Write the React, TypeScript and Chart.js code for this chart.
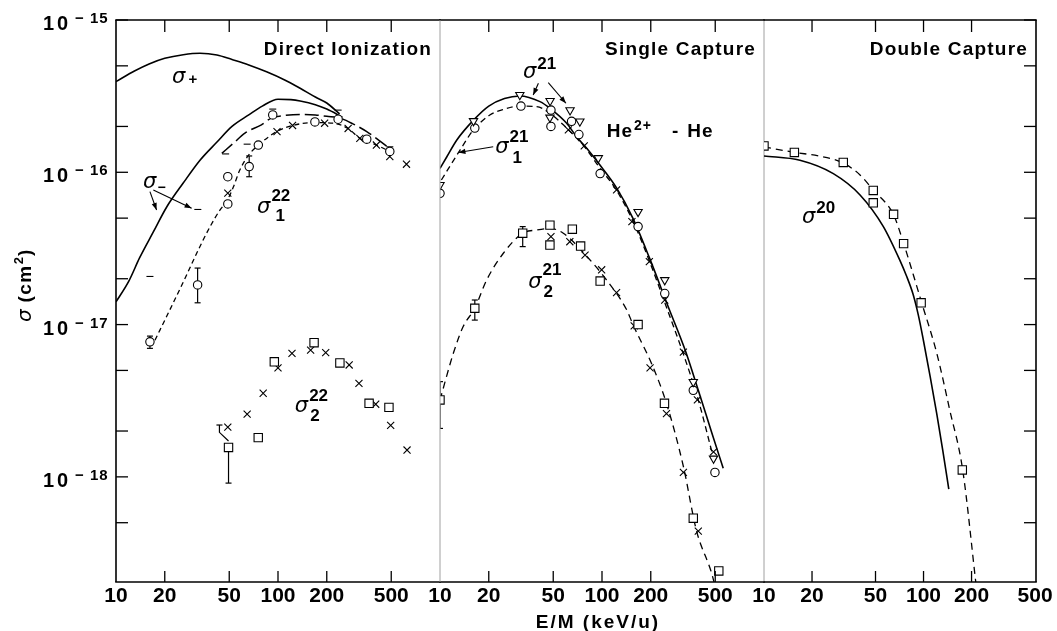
import React, { useEffect, useRef } from "react";
import { Chart, registerables } from "chart.js";
Chart.register(...registerables);

const W = 1057;
const H = 631;
const FONT = "'Liberation Sans', Arial, sans-serif";
const SIGMA_FONT = "italic 21px 'DejaVu Sans'";
const SUP_FONT = "bold 17px 'Liberation Sans'";

// ---------- axes / ticks ----------
const xTickValues = [10, 20, 50, 100, 200, 500];
const xInnerTickValues = [20, 50, 100, 200, 500];
const yDecadeTicks = [1e-15, 1e-16, 1e-17, 1e-18];
const yDecadeExponents = ["15", "16", "17", "18"];
const yMinorTicks = [5e-16, 2e-16, 5e-17, 2e-17, 5e-18, 2e-18, 5e-19];
const yMin = 2.04e-19;
const yMax = 1e-15;

// ---------- Panel 1: Direct Ionization ----------
const diSigmaPlusE = [10, 13, 16, 20, 26, 33, 42, 52, 66, 85, 110, 137, 170, 200, 240];
const diSigmaPlusV = [3.94e-16, 4.62e-16, 5.14e-16, 5.6e-16, 5.92e-16, 6.05e-16, 5.89e-16, 5.5e-16, 5.07e-16, 4.57e-16, 4.04e-16, 3.56e-16, 3.12e-16, 2.85e-16, 2.42e-16];
const diSigmaMinusE = [10, 12, 14, 17, 20.6, 26, 33, 42, 52, 66, 80, 100, 120, 137, 170, 200, 250];
const diSigmaMinusV = [1.41e-17, 1.93e-17, 2.75e-17, 4.06e-17, 5.94e-17, 8.5e-17, 1.2e-16, 1.58e-16, 2.0e-16, 2.38e-16, 2.72e-16, 3.02e-16, 3.0e-16, 2.94e-16, 2.78e-16, 2.6e-16, 2.3e-16];
const diLongDashE = [45, 53, 62.5, 79, 91, 110, 137, 170, 200, 241, 290, 353, 420, 504];
const diLongDashV = [1.33e-16, 1.55e-16, 1.81e-16, 2.05e-16, 2.27e-16, 2.36e-16, 2.4e-16, 2.38e-16, 2.33e-16, 2.27e-16, 2.08e-16, 1.85e-16, 1.62e-16, 1.4e-16];
const diShortDashE = [17.4, 21.5, 26.6, 32.2, 38.1, 43.8, 48.4, 53, 58, 66, 75.6, 87, 98, 123, 169, 218, 271, 320, 405, 490];
const diShortDashV = [7.9e-18, 1.25e-17, 2.0e-17, 3.09e-17, 4.4e-17, 5.65e-17, 6.5e-17, 8.0e-17, 1.03e-16, 1.3e-16, 1.51e-16, 1.7e-16, 1.85e-16, 2.03e-16, 2.12e-16, 2.1e-16, 1.94e-16, 1.67e-16, 1.51e-16, 1.37e-16];
const diCircleE = [16.2, 31.9, 49, 49, 66.4, 75.6, 92.8, 169, 235, 353, 490];
const diCircleV = [7.7e-18, 1.82e-17, 6.2e-17, 9.35e-17, 1.09e-16, 1.51e-16, 2.38e-16, 2.14e-16, 2.23e-16, 1.65e-16, 1.37e-16];
const diCrossE = [49, 98.6, 123, 194, 271, 320, 405, 490, 621];
const diCrossV = [7.3e-17, 1.85e-16, 2.03e-16, 2.1e-16, 1.94e-16, 1.67e-16, 1.51e-16, 1.27e-16, 1.13e-16];
const diDashMarkE = [16.2, 32, 47.5, 64.5, 92.8, 235, 490];
const diDashMarkV = [2.07e-17, 5.7e-17, 1.32e-16, 1.53e-16, 2.6e-16, 2.56e-16, 1.47e-16];
const diS2SquareE = [49.5, 75.5, 94.9, 167, 241, 365, 484];
const diS2SquareV = [1.56e-18, 1.81e-18, 5.7e-18, 7.6e-18, 5.6e-18, 3.04e-18, 2.86e-18];
const diS2CrossE = [49, 64.5, 81, 100, 122, 159, 197, 275, 316, 401, 496, 626];
const diS2CrossV = [2.12e-18, 2.58e-18, 3.54e-18, 5.2e-18, 6.47e-18, 6.8e-18, 6.54e-18, 5.43e-18, 4.11e-18, 3.0e-18, 2.18e-18, 1.5e-18];
const diErrE = [16.2, 31.9, 66.4];
const diErrLo = [6.98e-18, 1.39e-17, 9.35e-17];
const diErrHi = [8.4e-18, 2.35e-17, 1.28e-16];
const diBentErrE = [43.5, 43.5, 49.5];
const diBentErrV = [2.19e-18, 1.96e-18, 1.72e-18];
const diLowErrE = [49.5, 49.5];
const diLowErrV = [1.56e-18, 9.1e-19];

// ---------- Panel 2: Single Capture ----------
const scSigmaE = [10, 11, 12.7, 16.1, 20, 25, 31.1, 41.4, 47.8, 60.5, 69.7, 80, 95, 123, 155, 196, 257, 326, 393, 476, 560];
const scSigmaV = [1.06e-16, 1.26e-16, 1.63e-16, 2.2e-16, 2.72e-16, 3.05e-16, 3.17e-16, 2.91e-16, 2.63e-16, 2.1e-16, 1.71e-16, 1.45e-16, 1.15e-16, 7.9e-17, 5.0e-17, 2.75e-17, 1.3e-17, 6.8e-18, 3.7e-18, 1.95e-18, 1.14e-18];
const scSigma1E = [10.2, 13.3, 16.1, 20.3, 25, 31.1, 39.5, 47.8, 57.7, 69.7, 80, 95, 123, 155, 196, 250, 318, 393, 476];
const scSigma1V = [8.9e-17, 1.4e-16, 1.9e-16, 2.38e-16, 2.6e-16, 2.72e-16, 2.7e-16, 2.44e-16, 2.05e-16, 1.68e-16, 1.42e-16, 1.1e-16, 7.6e-17, 4.8e-17, 2.62e-17, 1.3e-17, 6.4e-18, 3.2e-18, 1.47e-18];
const scSigma2E = [10, 12.1, 13.9, 16.4, 19.4, 24.6, 32.4, 39.5, 47.7, 57.7, 80.7, 106.8, 142, 156, 206, 250, 318, 382, 488, 520];
const scSigma2V = [3.2e-18, 6.5e-18, 9.7e-18, 1.28e-17, 1.96e-17, 2.94e-17, 3.98e-17, 4.18e-17, 4.28e-17, 3.98e-17, 2.8e-17, 1.96e-17, 1.25e-17, 9.9e-18, 5.3e-18, 3.04e-18, 1.17e-18, 4.48e-19, 2.1e-19, 1.5e-19];
const scTriE = [10, 16.1, 31.1, 47.8, 47.7, 63.5, 73, 94.9, 167, 244, 366, 488];
const scTriV = [8.26e-17, 2.17e-16, 3.22e-16, 2.94e-16, 2.29e-16, 2.56e-16, 2.16e-16, 1.24e-16, 5.5e-17, 1.96e-17, 4.2e-18, 1.32e-18];
const scCircleE = [10, 16.4, 31.6, 48.4, 48.4, 64.9, 72, 97.4, 167, 244, 366, 498];
const scCircleV = [7.28e-17, 1.95e-16, 2.72e-16, 2.56e-16, 2.0e-16, 2.16e-16, 1.77e-16, 9.8e-17, 4.4e-17, 1.6e-17, 3.7e-18, 1.07e-18];
const scCrossE = [62, 77.7, 123, 153, 196, 244, 318, 388, 488];
const scCrossV = [1.9e-16, 1.49e-16, 7.66e-17, 4.74e-17, 2.59e-17, 1.45e-17, 6.6e-18, 3.2e-18, 1.46e-18];
const scS2SquareE = [10, 16.4, 32.4, 47.7, 47.7, 65.6, 73.8, 97.4, 167, 243, 366, 526];
const scS2SquareV = [3.2e-18, 1.28e-17, 3.98e-17, 4.5e-17, 3.33e-17, 4.23e-17, 3.28e-17, 1.93e-17, 1.0e-17, 3.04e-18, 5.35e-19, 2.41e-19];
const scS2CrossE = [48.4, 63.3, 78.6, 99.5, 123, 158, 198, 250, 318, 393];
const scS2CrossV = [3.78e-17, 3.5e-17, 2.86e-17, 2.29e-17, 1.62e-17, 9.8e-18, 5.2e-18, 2.6e-18, 1.07e-18, 4.4e-19];
const scErrE = [10, 16.4, 32.4];
const scErrLo = [2.08e-18, 1.07e-17, 3.25e-17];
const scErrHi = [4.22e-18, 1.45e-17, 4.4e-17];

// ---------- Panel 3: Double Capture ----------
const dcSolidE = [10, 16.8, 27.2, 40, 56, 71, 78, 86, 93, 100, 110, 121, 132, 144];
const dcSolidV = [1.28e-16, 1.2e-16, 9.8e-17, 7.1e-17, 4.4e-17, 2.65e-17, 2.1e-17, 1.58e-17, 1.14e-17, 7.8e-18, 4.57e-18, 2.6e-18, 1.49e-18, 8.3e-19];
const dcDashE = [10, 15.6, 22, 31.4, 40, 48.4, 64.9, 75, 86, 97.6, 121, 146, 176, 213];
const dcDashV = [1.47e-16, 1.35e-16, 1.28e-16, 1.15e-16, 9.6e-17, 7.65e-17, 5.25e-17, 3.42e-17, 2.15e-17, 1.38e-17, 6.5e-18, 2.75e-18, 1.11e-18, 2.0e-19];
const dcSquareE = [10, 15.5, 31.4, 48.4, 48.4, 64.9, 75, 96.6, 175];
const dcSquareV = [1.49e-16, 1.35e-16, 1.16e-16, 7.6e-17, 6.3e-17, 5.3e-17, 3.4e-17, 1.39e-17, 1.11e-18];

// ---------- helpers ----------
const pts = (E: number[], V: number[]) => E.map((e, i) => ({ x: e, y: V[i] }));

const curve = (E: number[], V: number[], dash: number[], width = 1.5) => ({
  data: pts(E, V),
  showLine: true,
  borderColor: "#000",
  borderWidth: width,
  borderDash: dash,
  pointRadius: 0,
  pointHoverRadius: 0,
  cubicInterpolationMode: "monotone",
  fill: false,
  order: 2,
});

const marks = (E: number[], V: number[], style: string, r: number, rot = 0) => ({
  data: pts(E, V),
  showLine: false,
  pointStyle: style,
  pointRadius: r,
  pointHoverRadius: r,
  pointRotation: rot,
  pointBackgroundColor: "#fff",
  pointBorderColor: "#000",
  pointBorderWidth: 1.1,
  order: 0,
});

const errBars = (E: number[], lo: number[], hi: number[]) =>
  E.map((e, i) => ({
    data: [{ x: e, y: lo[i] }, { x: e, y: hi[i] }],
    showLine: true,
    borderColor: "#000",
    borderWidth: 1.2,
    pointStyle: "line",
    pointRadius: 3,
    pointHoverRadius: 3,
    pointBorderWidth: 1.2,
    pointBorderColor: "#000",
    order: 1,
  }));

const polyBar = (E: number[], V: number[], radii: number[]) => ({
  data: pts(E, V),
  showLine: true,
  borderColor: "#000",
  borderWidth: 1.2,
  pointStyle: "line",
  pointRadius: radii,
  pointHoverRadius: radii,
  pointBorderWidth: 1.2,
  pointBorderColor: "#000",
  order: 1,
});

type Part = { t: string; font: string; dx?: number; dy?: number; ls?: number; back?: boolean };
const SIG: Part = { t: "σ", font: SIGMA_FONT };

function rich(ctx: any, x: number, y: number, parts: Part[]) {
  let cx = x;
  for (const p of parts) {
    ctx.font = p.font;
    ctx.letterSpacing = (p.ls ?? 0) + "px";
    cx += p.dx ?? 0;
    const start = cx;
    ctx.fillText(p.t, cx, y + (p.dy ?? 0));
    cx += ctx.measureText(p.t).width;
    if (p.back) cx = start;
  }
  ctx.letterSpacing = "0px";
}

// annotations (anchors in data coordinates)
const diLabels = [
  { E: 22.2, V: 3.86e-16, parts: [SIG, { t: "+", font: "bold 15px 'Liberation Sans'", dx: 3, dy: 1 }] },
  { E: 14.7, V: 7.88e-17, parts: [SIG, { t: "−", font: "bold 14px 'Liberation Sans'", dx: 1, dy: 4 }] },
  { E: 74.3, V: 5.41e-17, parts: [SIG, { t: "22", font: SUP_FONT, dx: 1, dy: -12, back: true }, { t: "1", font: SUP_FONT, dx: 4, dy: 8 }] },
  { E: 127, V: 2.67e-18, parts: [SIG, { t: "22", font: SUP_FONT, dx: 1, dy: -11, back: true }, { t: "2", font: SUP_FONT, dx: 1, dy: 9 }] },
];
const diArrowFromE = [16.2, 17.0];
const diArrowFromV = [7.47e-17, 7.66e-17];
const diArrowToE = [17.8, 29.3];
const diArrowToV = [5.65e-17, 5.81e-17];

const scLabels = [
  { E: 32.5, V: 4.16e-16, parts: [SIG, { t: "21", font: SUP_FONT, dx: 1, dy: -9 }] },
  { E: 21.9, V: 1.34e-16, parts: [SIG, { t: "21", font: SUP_FONT, dx: 1, dy: -11, back: true }, { t: "1", font: SUP_FONT, dx: 3, dy: 10 }] },
  { E: 35, V: 1.74e-17, parts: [SIG, { t: "21", font: SUP_FONT, dx: 1, dy: -13, back: true }, { t: "2", font: SUP_FONT, dx: 1, dy: 9 }] },
  {
    E: 107, V: 1.71e-16,
    parts: [
      { t: "He", font: "bold 19px 'Liberation Sans'", ls: 1 },
      { t: "2+", font: "bold 14px 'Liberation Sans'", dx: 1, dy: -7, ls: 1 },
      { t: "-", font: "bold 19px 'Liberation Sans'", dx: 20 },
      { t: "He", font: "bold 19px 'Liberation Sans'", dx: 9, ls: 1 },
    ],
  },
];
const scArrowFromE = [40.5, 46.6, 21.3];
const scArrowFromV = [3.84e-16, 3.88e-16, 1.47e-16];
const scArrowToE = [37.6, 59.9, 13.0];
const scArrowToV = [3.22e-16, 2.84e-16, 1.35e-16];

const dcLabels = [{ E: 17.3, V: 4.65e-17, parts: [SIG, { t: "20", font: SUP_FONT, dx: 1, dy: -10 }] }];

// ---------- decoration plugin ----------
const decorPlugin = {
  id: "decor",
  afterDatasetsDraw(chart: any, _args: any, o: any) {
    const ctx = chart.ctx;
    const ca = chart.chartArea;
    const xs = chart.scales.x;
    const ys = chart.scales.y;
    const px = (E: number) => xs.getPixelForValue(E);
    const py = (V: number) => ys.getPixelForValue(V);
    ctx.save();
    const seg = (x1: number, y1: number, x2: number, y2: number, color: string, w: number) => {
      ctx.strokeStyle = color;
      ctx.lineWidth = w;
      ctx.beginPath();
      ctx.moveTo(x1, y1);
      ctx.lineTo(x2, y2);
      ctx.stroke();
    };
    // frame
    seg(ca.left - 0.8, ca.top, ca.right + 0.8, ca.top, "#000", 1.6);
    seg(ca.left - 0.8, ca.bottom, ca.right + 0.8, ca.bottom, "#000", 1.6);
    if (o.left === "solid") seg(ca.left, ca.top, ca.left, ca.bottom, "#000", 1.6);
    if (o.left === "gray") seg(ca.left, ca.top, ca.left, ca.bottom, "#a0a0a0", 1);
    if (o.right === "solid") seg(ca.right, ca.top, ca.right, ca.bottom, "#000", 1.6);
    if (o.right === "gray") seg(ca.right, ca.top, ca.right, ca.bottom, "#a0a0a0", 1);
    // x ticks (inward)
    for (const v of xInnerTickValues) {
      if (v > xs.max * 0.9) continue;
      const x = px(v);
      seg(x, ca.top, x, ca.top + 12, "#000", 1.3);
      seg(x, ca.bottom, x, ca.bottom - 11, "#000", 1.3);
    }
    // y ticks (inward)
    const yt = [...yDecadeTicks, ...yMinorTicks];
    for (const v of yt) {
      const y = py(v);
      if (o.yTicksLeft) seg(ca.left, y, ca.left + 12, y, "#000", 1.3);
      if (o.yTicksRight) seg(ca.right, y, ca.right - 12, y, "#000", 1.3);
    }
    ctx.fillStyle = "#000";
    ctx.textAlign = "left";
    ctx.textBaseline = "alphabetic";
    // y tick labels
    if (o.yLabels) {
      yDecadeTicks.forEach((v, i) => {
        const y = py(v);
        rich(ctx, 43, y + 10, [{ t: "10", font: "bold 20px 'Liberation Sans'", ls: 3 }]);
        rich(ctx, 75, y + 3, [{ t: "− " + yDecadeExponents[i], font: "bold 15px 'Liberation Sans'", ls: 1 }]);
      });
    }
    // y title
    if (o.yTitle) {
      ctx.save();
      ctx.translate(31, 322);
      ctx.rotate(-Math.PI / 2);
      rich(ctx, 0, 0, [
        { t: "σ", font: "italic 20px 'DejaVu Sans'" },
        { t: " (cm", font: "bold 19px 'Liberation Sans'", ls: 1.5 },
        { t: "2", font: "bold 13px 'Liberation Sans'", dy: -8 },
        { t: ")", font: "bold 19px 'Liberation Sans'", dx: 1 },
      ]);
      ctx.restore();
    }
    // x title
    if (o.xTitle) {
      ctx.font = "bold 19px 'Liberation Sans'";
      ctx.letterSpacing = "2px";
      ctx.textAlign = "center";
      ctx.fillText("E/M (keV/u)", (ca.left + ca.right) / 2 - 4, 628);
      ctx.letterSpacing = "0px";
      ctx.textAlign = "left";
    }
    // panel title
    ctx.font = "bold 19px 'Liberation Sans'";
    ctx.letterSpacing = "1.2px";
    ctx.textAlign = "right";
    ctx.fillText(o.title, ca.right - 8, ca.top + 35);
    ctx.letterSpacing = "0px";
    ctx.textAlign = "left";
    // labels
    for (const l of o.labels) rich(ctx, px(l.E), py(l.V), l.parts);
    // arrows
    for (let i = 0; i < o.arrowFromE.length; i++) {
      const x1 = px(o.arrowFromE[i]);
      const y1 = py(o.arrowFromV[i]);
      const x2 = px(o.arrowToE[i]);
      const y2 = py(o.arrowToV[i]);
      seg(x1, y1, x2, y2, "#000", 1.1);
      const a = Math.atan2(y2 - y1, x2 - x1);
      const L = 7;
      const Wd = 2.6;
      ctx.beginPath();
      ctx.moveTo(x2, y2);
      ctx.lineTo(x2 - L * Math.cos(a) + Wd * Math.sin(a), y2 - L * Math.sin(a) - Wd * Math.cos(a));
      ctx.lineTo(x2 - L * Math.cos(a) - Wd * Math.sin(a), y2 - L * Math.sin(a) + Wd * Math.cos(a));
      ctx.closePath();
      ctx.fill();
    }
    ctx.restore();
  },
};

const SQ = 5.9;
const CR = 5;
const CI = 4.2;
const TR = 4.8;

const panels = [
  {
    padLeft: 0,
    padRight: W - 440,
    xMax: 1000,
    showY: true,
    decor: {
      left: "solid", right: "none", yTicksLeft: true, yTicksRight: false, yLabels: true, yTitle: true, xTitle: false,
      title: "Direct Ionization", labels: diLabels,
      arrowFromE: diArrowFromE, arrowFromV: diArrowFromV, arrowToE: diArrowToE, arrowToV: diArrowToV,
    },
    datasets: [
      marks(diCircleE, diCircleV, "circle", CI),
      marks(diCrossE, diCrossV, "crossRot", CR),
      marks(diDashMarkE, diDashMarkV, "line", 3.5),
      marks(diS2SquareE, diS2SquareV, "rect", SQ),
      marks(diS2CrossE, diS2CrossV, "crossRot", CR),
      ...errBars(diErrE, diErrLo, diErrHi),
      polyBar(diBentErrE, diBentErrV, [3, 0, 0]),
      polyBar(diLowErrE, diLowErrV, [0, 3]),
      curve(diSigmaPlusE, diSigmaPlusV, [], 1.6),
      curve(diSigmaMinusE, diSigmaMinusV, [], 1.6),
      curve(diLongDashE, diLongDashV, [14, 5], 1.5),
      curve(diShortDashE, diShortDashV, [5, 3.5], 1.3),
    ],
  },
  {
    padLeft: 440,
    padRight: W - 764,
    xMax: 1000,
    showY: false,
    decor: {
      left: "gray", right: "gray", yTicksLeft: false, yTicksRight: false, yLabels: false, yTitle: false, xTitle: true,
      title: "Single Capture", labels: scLabels,
      arrowFromE: scArrowFromE, arrowFromV: scArrowFromV, arrowToE: scArrowToE, arrowToV: scArrowToV,
    },
    datasets: [
      marks(scTriE, scTriV, "triangle", TR, 180),
      marks(scCircleE, scCircleV, "circle", CI),
      marks(scCrossE, scCrossV, "crossRot", CR),
      marks(scS2SquareE, scS2SquareV, "rect", SQ),
      marks(scS2CrossE, scS2CrossV, "crossRot", CR),
      ...errBars(scErrE, scErrLo, scErrHi),
      curve(scSigmaE, scSigmaV, [], 1.6),
      curve(scSigma1E, scSigma1V, [6, 4], 1.3),
      curve(scSigma2E, scSigma2V, [7, 5], 1.3),
    ],
  },
  {
    padLeft: 764,
    padRight: W - 1036,
    xMax: 507,
    showY: false,
    decor: {
      left: "none", right: "solid", yTicksLeft: false, yTicksRight: true, yLabels: false, yTitle: false, xTitle: false,
      title: "Double Capture", labels: dcLabels,
      arrowFromE: [], arrowFromV: [], arrowToE: [], arrowToV: [],
    },
    datasets: [
      marks(dcSquareE, dcSquareV, "rect", SQ),
      curve(dcSolidE, dcSolidV, [], 1.6),
      curve(dcDashE, dcDashV, [7, 5], 1.3),
    ],
  },
];

function makeChart(canvas: HTMLCanvasElement, p: any) {
  return new Chart(canvas, {
    type: "scatter",
    data: { datasets: p.datasets },
    options: {
      responsive: false,
      animation: false,
      events: [],
      layout: { padding: { left: p.padLeft, right: p.padRight, top: 20, bottom: 0 } },
      plugins: {
        legend: { display: false },
        tooltip: { enabled: false },
        decor: p.decor,
      },
      scales: {
        x: {
          type: "logarithmic",
          min: 10,
          max: p.xMax,
          position: "bottom",
          afterBuildTicks: (s: any) => {
            s.ticks = xTickValues.filter((v) => v <= p.xMax).map((v) => ({ value: v }));
          },
          afterFit: (s: any) => {
            s.height = 49;
          },
          grid: { display: false, drawTicks: false },
          border: { display: false },
          ticks: {
            autoSkip: false,
            maxRotation: 0,
            padding: 2,
            color: "#000",
            font: { family: FONT, size: 21, weight: "bold" },
            callback: (v: any) => String(v),
          },
        },
        y: {
          type: "logarithmic",
          min: yMin,
          max: yMax,
          display: p.showY,
          afterFit: (s: any) => {
            s.width = p.showY ? 116 : 0;
          },
          grid: { display: false, drawTicks: false },
          border: { display: false },
          ticks: { display: false },
        },
      },
    } as any,
    plugins: [decorPlugin as any],
  });
}

export default function App() {
  const r1 = useRef<HTMLCanvasElement>(null);
  const r2 = useRef<HTMLCanvasElement>(null);
  const r3 = useRef<HTMLCanvasElement>(null);
  useEffect(() => {
    const refs = [r1, r2, r3];
    const charts = refs.map((r, i) => makeChart(r.current as HTMLCanvasElement, panels[i]));
    return () => charts.forEach((c) => c.destroy());
  }, []);
  const cs: React.CSSProperties = { position: "absolute", left: 0, top: 0, width: W, height: H };
  return (
    <div style={{ position: "fixed", left: 0, top: 0, width: W, height: H, background: "#fff" }}>
      <canvas ref={r1} width={W} height={H} style={cs} />
      <canvas ref={r2} width={W} height={H} style={cs} />
      <canvas ref={r3} width={W} height={H} style={cs} />
    </div>
  );
}
